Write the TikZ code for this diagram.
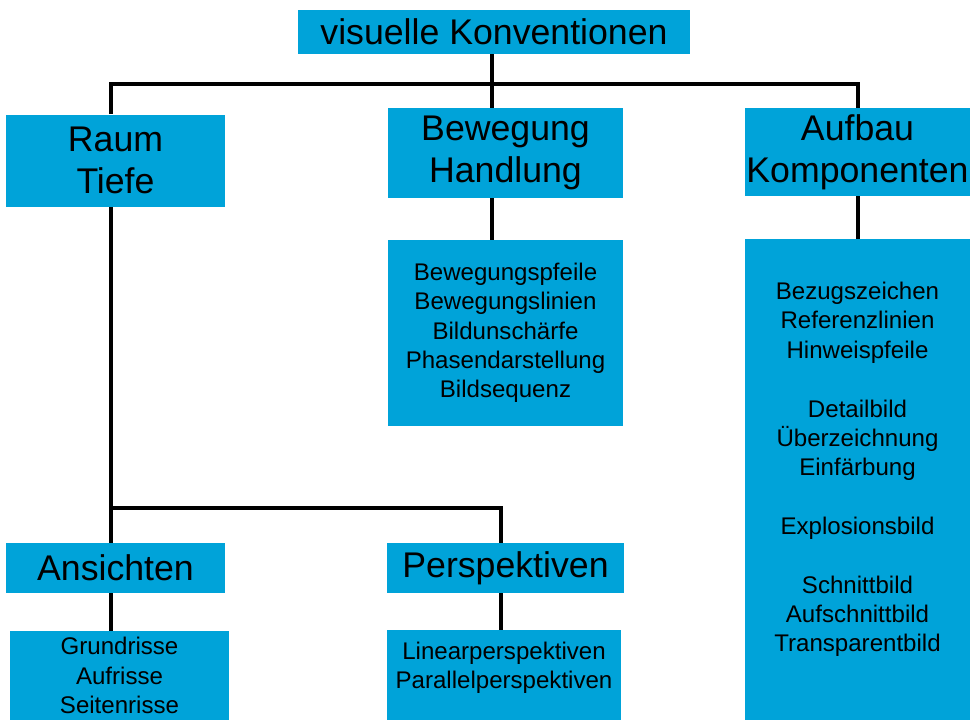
\documentclass[tikz,border=0pt]{standalone}
\usepackage{fontspec}
\setmainfont{Liberation Sans}
\usetikzlibrary{positioning,calc}
\definecolor{boxblue}{HTML}{00A3D9}

\begin{document}
\begin{tikzpicture}[
  head/.style={fill=boxblue, inner sep=0pt, align=center, font=\fontsize{20.3}{23.9}\selectfont},
  listbox/.style={fill=boxblue, inner sep=0pt, align=center, font=\fontsize{13.7}{16.7}\selectfont},
  listtxt/.style={inner sep=0pt, align=center, font=\fontsize{13.7}{16.7}\selectfont},
  conn/.style={line width=1.8pt}
]
\useasboundingbox (0,0) rectangle (19.4,-14.4);
% headings
\node[head, minimum width=7.84cm, minimum height=0.88cm] (top) at (9.88,-0.64) {visuelle Konventionen};
\node[head, minimum width=4.38cm, minimum height=1.84cm] (raum) at (2.31,-3.21) {Raum\\Tiefe};
\node[head, minimum width=4.70cm, minimum height=1.80cm] (beweg) at (10.11,-3.06) {Bewegung\\Handlung};
\node[head, minimum width=4.50cm, minimum height=1.76cm] (aufbau) at (17.15,-3.04) {Aufbau\\Komponenten};
\node[head, minimum width=4.38cm, minimum height=1.00cm] (ansichten) at (2.31,-11.36) {Ansichten};
\node[head, minimum width=4.74cm, minimum height=1.00cm] (persp) at (10.11,-11.36) {Perspektiven};
% lists
\node[listbox, minimum width=4.70cm, minimum height=3.72cm] (bewList) at (10.11,-6.66)
  {Bewegungspfeile\\Bewegungslinien\\Bildunschärfe\\Phasendarstellung\\Bildsequenz};
\node[listbox, minimum width=4.50cm, minimum height=9.62cm,
  label={[listtxt, yshift=0.20cm]center:{Bezugszeichen\\Referenzlinien\\Hinweispfeile\\[16.7pt]Detailbild\\Überzeichnung\\Einfärbung\\[16.7pt]Explosionsbild\\[16.7pt]Schnittbild\\Aufschnittbild\\Transparentbild}}]
  (aufList) at (17.15,-9.59) {};
\node[listbox, minimum width=4.38cm, minimum height=1.78cm] (grund) at (2.39,-13.51)
  {Grundrisse\\Aufrisse\\Seitenrisse};
\node[listbox, minimum width=4.68cm, minimum height=1.80cm,
  label={[listtxt, yshift=0.15cm]center:{Linearperspektiven\\Parallelperspektiven}}]
  (linear) at (10.08,-13.50) {};
% connectors
\coordinate (busL) at (2.22,-1.68);
\coordinate (busR) at (17.16,-1.68);
\coordinate (mid) at (9.84,-1.68);
\coordinate (fork) at (2.22,-10.16);
\coordinate (forkR) at (10.02,-10.16);
\draw[conn] (raum.north -| busL) -- (busL) -- (busR) -- (aufbau.north -| busR);
\draw[conn] (top.south -| mid) -- (beweg.north -| mid);
\draw[conn] (beweg.south -| mid) -- (bewList.north -| mid);
\draw[conn] (aufbau.south -| busR) -- (aufList.north -| busR);
\draw[conn] (raum.south -| fork) -- (fork) -- (ansichten.north -| fork);
\draw[conn] (fork) -- (forkR) -- (persp.north -| forkR);
\draw[conn] (ansichten.south -| fork) -- (grund.north -| fork);
\draw[conn] (persp.south -| forkR) -- (linear.north -| forkR);
\end{tikzpicture}
\end{document}
